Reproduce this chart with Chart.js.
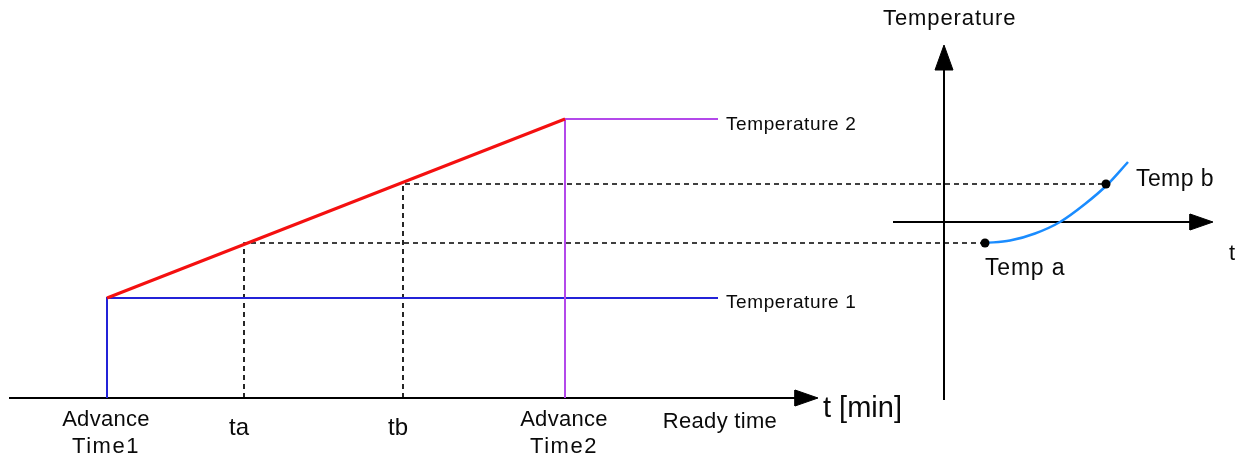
<!DOCTYPE html>
<html>
<head>
<meta charset="utf-8">
<script src="https://cdn.jsdelivr.net/npm/chart.js@4/dist/chart.umd.min.js"></script>
<style>
  html, body { margin: 0; padding: 0; background: #fff; }
  #wrap { width: 1242px; height: 459px; }
</style>
</head>
<body>
<div id="wrap"><canvas id="diagram"></canvas></div>
<script>
// Diagram values (x = time units, y = temperature units, origin bottom-left)
const timeMarks = [107, 244, 403, 565];          // Advance Time1, ta, tb, Advance Time2
const timeLabels = [['Advance', 'Time1'], ['ta'], ['tb'], ['Advance', 'Time2']];
const readyEnd = 718;
const tempLevels = [161, 340];                    // Temperature 1, Temperature 2
const tempLabels = ['Temperature 1', 'Temperature 2'];
const baseLevel = 61;                             // main time axis
const tempAB = [216, 275];                        // Temp a, Temp b
const insetDots = [985, 1106];                    // where Temp a / Temp b sit on the curve
const curveX = [985, 1010, 1035, 1060, 1085, 1107, 1128];
const curveY = [216, 218.4, 225.5, 237, 255, 274, 297];

// helper to turn x/y arrays into points
function pts(xs, ys) {
    return xs.map((x, i) => ({ x: x, y: ys[i] }));
}

function line(data, color, width, extra) {
    return Object.assign({
        type: 'scatter',
        data: data,
        showLine: true,
        borderColor: color,
        backgroundColor: color,
        borderWidth: width,
        pointRadius: 0,
        tension: 0
    }, extra || {});
}

function arrowHead(tip, base, half, vertical) {
    // closed triangle, filled
    const d = vertical
        ? [{ x: tip.x - half, y: base }, { x: tip.x, y: tip.y }, { x: tip.x + half, y: base }, { x: tip.x - half, y: base }]
        : [{ x: base, y: tip.y - half }, { x: tip.x, y: tip.y }, { x: base, y: tip.y + half }, { x: base, y: tip.y - half }];
    return line(d, '#000', 1, { fill: 'shape', backgroundColor: '#000' });
}

const dash = { borderDash: [5, 4] };

const datasets = [
    // dots for Temp a / Temp b
    { type: 'scatter', data: pts(insetDots, tempAB), pointRadius: 4.5, pointBackgroundColor: '#000', pointBorderWidth: 0 },
    // inset curve
    line(pts(curveX, curveY), '#1a8cff', 2.5, { tension: 0.4, cubicInterpolationMode: 'monotone' }),
    // red ramp
    line([{ x: timeMarks[0], y: tempLevels[0] }, { x: timeMarks[3], y: tempLevels[1] }], '#f41010', 3),
    // purple: Advance Time2 -> Temperature 2
    line([{ x: timeMarks[3], y: baseLevel }, { x: timeMarks[3], y: tempLevels[1] }, { x: readyEnd, y: tempLevels[1] }], '#b348ea', 2),
    // blue: Advance Time1 -> Temperature 1
    line([{ x: timeMarks[0], y: baseLevel }, { x: timeMarks[0], y: tempLevels[0] }, { x: readyEnd, y: tempLevels[0] }], '#2323d8', 2),
    // dashed guides
    line([{ x: timeMarks[1], y: baseLevel }, { x: timeMarks[1], y: tempAB[0] }, { x: insetDots[0], y: tempAB[0] }], '#000', 1.7, dash),
    line([{ x: timeMarks[2], y: baseLevel }, { x: timeMarks[2], y: tempAB[1] }, { x: insetDots[1], y: tempAB[1] }], '#000', 1.7, dash),
    // main time axis
    line([{ x: 9, y: baseLevel }, { x: 800, y: baseLevel }], '#000', 2),
    arrowHead({ x: 818, y: baseLevel }, 795, 8, false),
    // inset axes
    line([{ x: 944, y: 59 }, { x: 944, y: 395 }], '#000', 2),
    arrowHead({ x: 944, y: 414 }, 389, 9, true),
    line([{ x: 893, y: 237 }, { x: 1195, y: 237 }], '#000', 2),
    arrowHead({ x: 1213, y: 237 }, 1190, 8, false)
];
datasets.forEach((d, i) => { d.order = i; });

// text labels, drawn through the scales
const textPlugin = {
    id: 'diagramText',
    afterDatasetsDraw(chart) {
        const ctx = chart.ctx;
        const sx = chart.scales.x, sy = chart.scales.y;
        const put = (txt, x, y, size, align, spacing) => {
            ctx.save();
            ctx.font = size + 'px "Liberation Sans", Arial, sans-serif';
            ctx.fillStyle = '#0a0a0a';
            ctx.textAlign = align;
            ctx.textBaseline = 'alphabetic';
            ctx.letterSpacing = (spacing || 0) + 'px';
            ctx.fillText(txt, sx.getPixelForValue(x), sy.getPixelForValue(y));
            ctx.restore();
        };
        timeLabels.forEach((lines, i) => {
            if (lines.length === 2) {
                put(lines[0], timeMarks[i] - 1, 33, 22, 'center', 0.3);
                put(lines[1], timeMarks[i] - 1, 6, 22, 'center', 1.5);
            } else {
                put(lines[0], timeMarks[i] - 5, 24, 24, 'center', 0);
            }
        });
        put('Ready time', 720, 31, 22, 'center', 0.3);
        put('t [min]', 823, 42, 29, 'left', 0);
        put(tempLabels[1], 726, 329, 19, 'left', 0.6);
        put(tempLabels[0], 726, 151, 19, 'left', 0.6);
        put('Temperature', 883, 434, 22, 'left', 0.9);
        put('Temp b', 1136, 273, 23, 'left', 0.4);
        put('Temp a', 985, 184, 23, 'left', 0.8);
        put('t', 1229, 199, 22, 'left', 0);
    }
};

new Chart(document.getElementById('diagram'), {
    type: 'scatter',
    data: { datasets: datasets },
    options: {
        responsive: true,
        maintainAspectRatio: false,
        animation: false,
        layout: { padding: 0, autoPadding: false },
        plugins: { legend: { display: false }, tooltip: { enabled: false } },
        scales: {
            x: { type: 'linear', min: 0, max: 1242, display: false },
            y: { type: 'linear', min: 0, max: 459, display: false }
        }
    },
    plugins: [textPlugin]
});
</script>
</body>
</html>
